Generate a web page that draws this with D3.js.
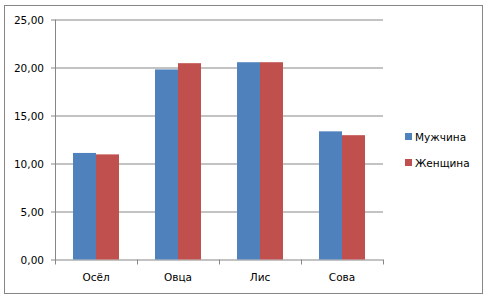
<!DOCTYPE html>
<html>
<head>
<meta charset="utf-8">
<script src="https://cdn.jsdelivr.net/npm/d3@7"></script>
<style>
  body { margin: 0; background: #fff; }
  text { font-family: "DejaVu Sans", Verdana, sans-serif; font-size: 10.5px; fill: #000; }
</style>
</head>
<body>
<script>
var categories = ["Осёл", "Овца", "Лис", "Сова"];
var seriesNames = ["Мужчина", "Женщина"];
var maleValues = [11.1, 19.8, 20.55, 13.35];
var femaleValues = [10.95, 20.45, 20.55, 12.95];
var yTicks = [0, 5, 10, 15, 20, 25];
var colors = ["#4f81bd", "#c0504d"];

var svgWidth = 490;
var svgHeight = 299;

var chartMargin = { top: 19.5, right: 107, bottom: 39.5, left: 55 };
var chartWidth = svgWidth - chartMargin.left - chartMargin.right;
var chartHeight = svgHeight - chartMargin.top - chartMargin.bottom;

var svg = d3.select("body")
  .append("svg")
  .attr("width", svgWidth)
  .attr("height", svgHeight);

// outer frame
svg.append("rect")
  .attr("x", 4.5).attr("y", 5.5)
  .attr("width", 478).attr("height", 288)
  .attr("fill", "#fff")
  .attr("stroke", "#868686");

var chartGroup = svg.append("g")
  .attr("transform", `translate(${chartMargin.left}, ${chartMargin.top})`);

var xBandScale = d3.scaleBand()
  .domain(categories)
  .range([0, chartWidth]);

var xInner = d3.scaleBand()
  .domain(seriesNames)
  .range([18, xBandScale.bandwidth() - 18]);

var yLinearScale = d3.scaleLinear()
  .domain([0, 25])
  .range([chartHeight, 0]);

// gridlines
chartGroup.selectAll(".grid")
  .data(yTicks)
  .enter()
  .append("line")
  .attr("x1", -4)
  .attr("x2", chartWidth)
  .attr("y1", d => Math.round(yLinearScale(d)) + 0.5)
  .attr("y2", d => Math.round(yLinearScale(d)) + 0.5)
  .attr("stroke", "#868686");

chartGroup.selectAll(".ylab")
  .data(yTicks)
  .enter()
  .append("text")
  .attr("x", -11)
  .attr("y", d => yLinearScale(d) + 4)
  .attr("text-anchor", "end")
  .text(d => d.toFixed(2).replace(".", ","));

// bars
var rows = categories.map((c, i) => ({ cat: c, values: [maleValues[i], femaleValues[i]] }));

chartGroup.selectAll(".group")
  .data(rows)
  .enter()
  .append("g")
  .attr("transform", d => `translate(${xBandScale(d.cat)}, 0)`)
  .selectAll("rect")
  .data(d => d.values.map((v, j) => ({ name: seriesNames[j], value: v, j: j })))
  .enter()
  .append("rect")
  .attr("x", d => xInner(d.name))
  .attr("y", d => yLinearScale(d.value))
  .attr("width", xInner.bandwidth())
  .attr("height", d => chartHeight - yLinearScale(d.value))
  .attr("fill", d => colors[d.j]);

// axes lines
chartGroup.append("line")
  .attr("x1", 0.5).attr("x2", 0.5)
  .attr("y1", 0).attr("y2", chartHeight + 0.5)
  .attr("stroke", "#868686");

var xTicks = categories.map(c => xBandScale(c)).concat([chartWidth]);
chartGroup.selectAll(".xtick")
  .data(xTicks)
  .enter()
  .append("line")
  .attr("x1", d => Math.round(d) + 0.5)
  .attr("x2", d => Math.round(d) + 0.5)
  .attr("y1", chartHeight)
  .attr("y2", chartHeight + 5)
  .attr("stroke", "#868686");

chartGroup.selectAll(".xlab")
  .data(categories)
  .enter()
  .append("text")
  .attr("x", d => xBandScale(d) + xBandScale.bandwidth() / 2)
  .attr("y", chartHeight + 21)
  .attr("text-anchor", "middle")
  .text(d => d);

// legend
var legend = svg.append("g")
  .attr("transform", "translate(405, 133)");

legend.selectAll("rect")
  .data(seriesNames)
  .enter()
  .append("rect")
  .attr("x", 0)
  .attr("y", (d, i) => i * 26)
  .attr("width", 7)
  .attr("height", 7)
  .attr("fill", (d, i) => colors[i]);

legend.selectAll("text")
  .data(seriesNames)
  .enter()
  .append("text")
  .attr("x", 10)
  .attr("y", (d, i) => i * 26 + 8)
  .text(d => d);
</script>
</body>
</html>
